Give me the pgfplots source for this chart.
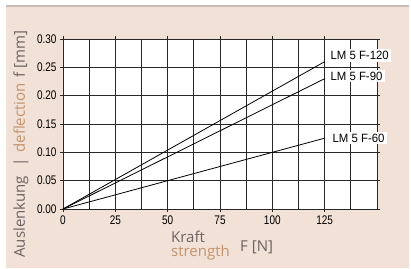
\documentclass[border=0pt]{standalone}
\usepackage{pgfplots}
\pgfplotsset{compat=1.18}
\usepackage{fontspec}
\setmainfont{Liberation Sans}
\newfontfamily\tickfont[FakeStretch=0.8]{Liberation Sans}
\newfontfamily\lmfont[FakeStretch=0.95]{Liberation Sans}
\newfontfamily\labfont{Open Sans}
\definecolor{peach}{HTML}{F2E1D7}
\definecolor{strip}{HTML}{C9B9B9}
\definecolor{labgrey}{HTML}{6B6363}
\definecolor{tan}{HTML}{C4946C}
\definecolor{gridc}{HTML}{282828}
\begin{document}
\begin{tikzpicture}[x=1pt,y=1pt]
\fill[white] (-63,-59) rectangle (348,209);
\fill[peach] (-57,-59) rectangle (346,202);
\fill[strip] (-57,202) rectangle (346,204);
\begin{axis}[
  at={(0,0)}, anchor=origin,
  scale only axis, width=314pt, height=170pt,
  xmin=0, xmax=150, ymin=0, ymax=0.30,
  xtick={0,25,50,75,100,125},
  minor xtick={12.5,37.5,62.5,87.5,112.5,137.5},
  ytick={0,0.05,0.10,0.15,0.20,0.25,0.30},
  grid=both,
  major grid style={gridc, line width=0.75pt},
  minor grid style={gridc, line width=0.75pt},
  axis line style={gridc, line width=0.8pt},
  tick align=outside, major tick length=3pt, minor tick length=0pt,
  tick style={gridc, line width=0.75pt},
  axis background/.style={fill=white},
  /pgf/number format/assume math mode=true,
  yticklabel style={/pgf/number format/.cd, fixed, fixed zerofill, precision=2},
  ticklabel style={font=\tickfont\fontsize{12.5}{12.5}\selectfont, text=black},
  clip=false,
]
\addplot[black, line width=0.8pt] coordinates {(0,0) (125,0.260)};
\addplot[black, line width=0.8pt] coordinates {(0,0) (125,0.230)};
\addplot[black, line width=0.8pt] coordinates {(0,0) (125,0.125)};
\node[anchor=west, fill=white, inner xsep=2.5pt, inner ysep=2pt, font=\lmfont\fontsize{12}{12}\selectfont] at (axis cs:126.5,0.2709) {LM 5 F-120\hspace{9pt}};
\node[anchor=west, fill=white, inner xsep=2.5pt, inner ysep=2pt, font=\lmfont\fontsize{12}{12}\selectfont] at (axis cs:126.5,0.2347) {LM 5 F-90};
\node[anchor=west, fill=white, inner xsep=2.5pt, inner ysep=2pt, font=\lmfont\fontsize{12}{12}\selectfont] at (axis cs:127.5,0.1253) {LM 5 F-60\hspace{4pt}};
\end{axis}
\node[rotate=90, font=\labfont\fontsize{15}{15}\selectfont] at (-42,65) {\textcolor{labgrey}{Auslenkung\hspace{9pt}|\hspace{6pt}}\textcolor{tan}{deflection}\hspace{6pt}\textcolor{labgrey}{f [mm]}};
\node[anchor=west, font=\labfont\fontsize{15}{15}\selectfont, text=labgrey, inner sep=0pt] at (108,-28) {Kraft};
\node[anchor=west, font=\labfont\fontsize{15}{15}\selectfont, text=tan, inner sep=0pt] at (108,-44) {strength};
\node[anchor=west, font=\labfont\fontsize{15}{15}\selectfont, text=labgrey, inner sep=0pt] at (177,-38) {F [N]};
\end{tikzpicture}
\end{document}
